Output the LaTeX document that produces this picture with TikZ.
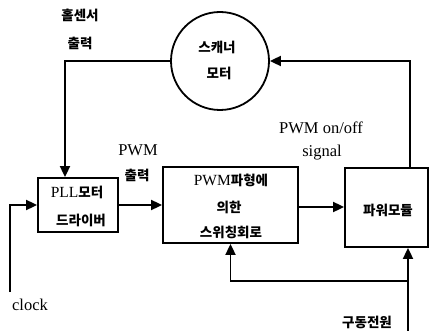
\documentclass[tikz,border=0pt]{standalone}
\usepackage{fontspec}
\setmainfont{Liberation Serif}
\newfontfamily\kr{Noto Sans CJK KR}
\usetikzlibrary{arrows.meta}
\tikzset{
  ln/.style={line width=1.8pt},
  arr/.style={ln,-{Triangle[length=11pt,width=10pt]}},
  blk/.style={draw,line width=1.8pt,rectangle,inner sep=0pt},
  lat/.style={font=\fontsize{16.5}{19}\selectfont},
  kor/.style={font=\fontsize{13.5}{16}\kr\bfseries},
}
\begin{document}
\begin{tikzpicture}[x=1pt,y=-1pt]
\useasboundingbox (0,0) rectangle (430,331);
% blocks
\node[draw,circle,line width=1.8pt,minimum size=98pt,inner sep=0pt] (mot) at (220,61) {};
\node[blk,minimum width=80pt,minimum height=54pt] (pll) at (78,205) {};
\node[blk,minimum width=135pt,minimum height=76pt] (pwm) at (230.5,205) {};
\node[blk,minimum width=83pt,minimum height=79pt] (pow) at (386.5,207.5) {};
% texts in blocks
\node[kor] (t1) at (217,47) {스캐너};
\node[kor] (t2) at (219,73) {모터};
\node (t3) at (77,192) {\fontsize{15.5}{17}\selectfont PLL\fontsize{13.5}{16}\kr\bfseries 모터};
\node[kor] (t4) at (81,220) {드라이버};
\node (t5) at (231,180) {\fontsize{15.5}{17}\selectfont PWM\fontsize{13.5}{16}\kr\bfseries 파형에};
\node[kor] (t6) at (229,207) {의한};
\node[kor] (t7) at (231,232) {스위칭회로};
\node[kor] (t8) at (388,210) {파워모듈};
% labels
\node[kor] (l1) at (80,15) {홀센서};
\node[kor] (l2) at (80,43) {출력};
\node[lat] (l3) at (138,150) {PWM};
\node[kor] (l4) at (137,175) {출력};
\node[lat] (l5) at (321,128) {PWM on/off};
\node[lat] (l6) at (322,153) {signal};
\node[lat] (l7) at (30,305) {clock};
\node[kor] (l8) at (367,322) {구동전원};
% coordinates
\coordinate (hc) at (65,61);
\coordinate (fb) at (410,61);
\coordinate (clk) at (10,292);
\coordinate (src) at (408,331);
\coordinate (br) at (408,281);
% connectors
\draw[arr] (mot.west) -- (hc) -- (hc |- pll.north);
\draw[arr] (pow.north -| fb) -- (fb) -- (mot.east);
\draw[arr] (clk) |- (pll.west);
\draw[arr] (pll.east) -- (pll.east -| pwm.west);
\draw[arr] (pwm.east |- 0,207) -- (pow.west |- 0,207);
\draw[arr] (src) -- (src |- pow.south);
\draw[arr] (br) -| (pwm.south);
\end{tikzpicture}
\end{document}
